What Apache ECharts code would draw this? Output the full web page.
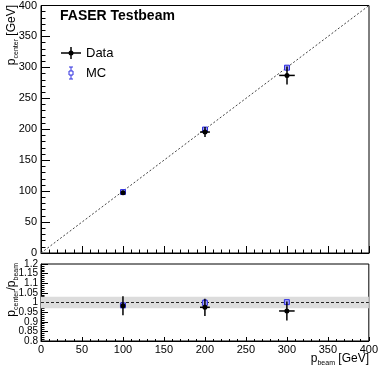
<!DOCTYPE html>
<html>
<head>
<meta charset="utf-8">
<script src="https://cdn.jsdelivr.net/npm/echarts@6/dist/echarts.min.js"></script>
<style>
  html, body { margin: 0; padding: 0; background: #fff; }
  #chart { width: 381px; height: 370px; }
</style>
</head>
<body>
<div id="chart"></div>
<script>
const beamE = [100, 200, 300]
const beamErr = [2, 6, 9.5]
const dataCenter = [97.5, 195.5, 287]
const dataCenterErr = [3, 8, 14.5]
const mcCenter = [98.5, 199.5, 299.5]
const mcCenterErr = [2, 3, 3]
const dataRatio = [0.983, 0.975, 0.956]
const dataRatioErr = [0.049, 0.045, 0.049]
const mcRatio = [0.985, 0.998, 1.002]
const mcRatioErr = [0.008, 0.015, 0.006]
const diagonal = [[0, 0], [400, 400]]
const unity = [[0, 1], [400, 1]]
const band = [0.97, 1.03]
// ratio axis labels, split in two sets so that none get dropped
const ratioLabelsA = [0.8, 0.9, 1, 1.1, 1.2]
const ratioLabelsB = [0.85, 0.95, 1.05, 1.15]

const font = 'Liberation Sans, Arial, sans-serif'

function pts(xs, ys, xe, ye) {
  return xs.map((x, i) => [x, ys[i], xe ? xe[i] : 0, ye[i]])
}

function errRender(isMC) {
  return function (params, api) {
    const x = api.value(0), y = api.value(1), ex = api.value(2), ey = api.value(3)
    const c = api.coord([x, y])
    const t = api.coord([x, y + ey]), b = api.coord([x, y - ey])
    const kids = []
    if (isMC) {
      const col = '#3030e0'
      kids.push({ type: 'line', shape: { x1: c[0], y1: t[1], x2: c[0], y2: b[1] }, style: { stroke: col, lineWidth: 1 } })
      kids.push({ type: 'line', shape: { x1: c[0] - 2, y1: t[1], x2: c[0] + 2, y2: t[1] }, style: { stroke: col, lineWidth: 1 } })
      kids.push({ type: 'line', shape: { x1: c[0] - 2, y1: b[1], x2: c[0] + 2, y2: b[1] }, style: { stroke: col, lineWidth: 1 } })
      kids.push({ type: 'rect', shape: { x: c[0] - 2.5, y: c[1] - 2.5, width: 5, height: 5 }, style: { fill: '#a0a0f8', stroke: col, lineWidth: 1 } })
    } else {
      const l = api.coord([x - ex, y]), r = api.coord([x + ex, y])
      kids.push({ type: 'line', shape: { x1: c[0], y1: t[1], x2: c[0], y2: b[1] }, style: { stroke: '#000', lineWidth: 1.5 } })
      kids.push({ type: 'line', shape: { x1: l[0], y1: c[1], x2: r[0], y2: c[1] }, style: { stroke: '#000', lineWidth: 1.5 } })
      kids.push({ type: 'circle', shape: { cx: c[0], cy: c[1], r: 2.5 }, style: { fill: '#000' } })
    }
    return { type: 'group', children: kids }
  }
}

const tickCommon = {
  axisLine: { show: true, lineStyle: { color: '#000', width: 1 } },
  splitLine: { show: false },
}
const ratioLabel = { show: true, color: '#000', fontFamily: font, fontSize: 10, margin: 3 }

const chart = echarts.init(document.getElementById('chart'), null, { renderer: 'canvas' })

chart.setOption({
  animation: false,
  grid: [
    { left: 41, top: 5, right: 12, height: 248, show: true, borderColor: '#000', borderWidth: 1, backgroundColor: 'transparent' },
    { left: 41, top: 264, right: 12, height: 77, show: true, borderColor: '#000', borderWidth: 1, backgroundColor: 'transparent' },
  ],
  xAxis: [
    {
      gridIndex: 0, type: 'value', min: 0, max: 400, interval: 50, ...tickCommon,
      axisLabel: { show: false },
      axisTick: { show: true, inside: true, length: 7, lineStyle: { color: '#000' } },
      minorTick: { show: true, splitNumber: 5, length: 3.5, lineStyle: { color: '#000' } },
    },
    {
      gridIndex: 1, type: 'value', min: 0, max: 400, interval: 50, ...tickCommon,
      axisLabel: { show: true, color: '#000', fontFamily: font, fontSize: 11, margin: 3 },
      axisTick: { show: true, inside: true, length: 4, lineStyle: { color: '#000' } },
      minorTick: { show: true, splitNumber: 5, length: 2, lineStyle: { color: '#000' } },
    },
  ],
  yAxis: [
    {
      gridIndex: 0, type: 'value', min: 0, max: 400, interval: 50, ...tickCommon,
      axisLabel: { show: true, color: '#000', fontFamily: font, fontSize: 11, margin: 4 },
      axisTick: { show: true, inside: true, length: 9, lineStyle: { color: '#000' } },
      minorTick: { show: true, splitNumber: 5, length: 4.5, lineStyle: { color: '#000' } },
    },
    {
      gridIndex: 1, type: 'value', min: 0.8, max: 1.2, interval: 0.05, ...tickCommon,
      axisLabel: { ...ratioLabel, customValues: ratioLabelsA },
      axisTick: { show: true, inside: true, length: 7, lineStyle: { color: '#000' } },
      minorTick: { show: true, splitNumber: 5, length: 3.5, lineStyle: { color: '#000' } },
    },
    {
      gridIndex: 1, type: 'value', min: 0.8, max: 1.2, interval: 0.05, position: 'left',
      axisLine: { show: false }, splitLine: { show: false }, axisTick: { show: false },
      axisLabel: { ...ratioLabel, customValues: ratioLabelsB },
    },
  ],
  series: [
    {
      type: 'line', xAxisIndex: 0, yAxisIndex: 0, data: diagonal, symbol: 'none',
      lineStyle: { color: '#444', width: 1, type: [2, 2] }, silent: true,
    },
    {
      type: 'line', xAxisIndex: 1, yAxisIndex: 1, data: unity, symbol: 'none',
      lineStyle: { color: '#222', width: 1, type: [3, 2] }, silent: true, z: 3,
      markArea: {
        silent: true,
        itemStyle: { color: '#dcdcdc' },
        data: [[{ yAxis: band[0] }, { yAxis: band[1] }]],
      },
    },
    {
      name: 'MC', type: 'custom', xAxisIndex: 0, yAxisIndex: 0, z: 4,
      data: pts(beamE, mcCenter, null, mcCenterErr), renderItem: errRender(true),
    },
    {
      name: 'Data', type: 'custom', xAxisIndex: 0, yAxisIndex: 0, z: 5,
      data: pts(beamE, dataCenter, beamErr, dataCenterErr), renderItem: errRender(false),
    },
    {
      name: 'MC ratio', type: 'custom', xAxisIndex: 1, yAxisIndex: 1, z: 4,
      data: pts(beamE, mcRatio, null, mcRatioErr), renderItem: errRender(true),
    },
    {
      name: 'Data ratio', type: 'custom', xAxisIndex: 1, yAxisIndex: 1, z: 5,
      data: pts(beamE, dataRatio, beamErr, dataRatioErr), renderItem: errRender(false),
    },
  ],
  graphic: [
    {
      type: 'text', x: 60, y: 16,
      style: { text: 'FASER Testbeam', font: 'bold 14px ' + font, fill: '#000', verticalAlign: 'middle' },
    },
    // legend: Data
    { type: 'line', shape: { x1: 61, y1: 53, x2: 81, y2: 53 }, style: { stroke: '#000', lineWidth: 1.5 } },
    { type: 'line', shape: { x1: 71, y1: 47, x2: 71, y2: 59 }, style: { stroke: '#000', lineWidth: 1.5 } },
    { type: 'circle', shape: { cx: 71, cy: 53, r: 2.5 }, style: { fill: '#000' } },
    { type: 'text', x: 86, y: 53, style: { text: 'Data', font: '13px ' + font, fill: '#000', verticalAlign: 'middle' } },
    // legend: MC
    { type: 'line', shape: { x1: 71, y1: 67, x2: 71, y2: 79 }, style: { stroke: '#3030e0', lineWidth: 1 } },
    { type: 'line', shape: { x1: 69, y1: 67, x2: 73, y2: 67 }, style: { stroke: '#3030e0', lineWidth: 1 } },
    { type: 'line', shape: { x1: 69, y1: 79, x2: 73, y2: 79 }, style: { stroke: '#3030e0', lineWidth: 1 } },
    { type: 'rect', shape: { x: 69, y: 71, width: 4, height: 4 }, style: { fill: '#fff', stroke: '#3030e0', lineWidth: 1 } },
    { type: 'text', x: 86, y: 73, style: { text: 'MC', font: '13px ' + font, fill: '#000', verticalAlign: 'middle' } },
    // axis titles
    {
      type: 'text', x: 12, y: 5, rotation: Math.PI / 2,
      style: {
        text: '{p|p}{s|center}{p| [GeV]}', align: 'right', verticalAlign: 'middle',
        rich: {
          p: { fontFamily: font, fontSize: 12, lineHeight: 16, fill: '#000' },
          s: { fontFamily: font, fontSize: 7, lineHeight: 7, verticalAlign: 'bottom', fill: '#000' },
        },
      },
    },
    {
      type: 'text', x: 12, y: 263, rotation: Math.PI / 2,
      style: {
        text: '{p|p}{s|center}{p|/p}{s|beam}', align: 'right', verticalAlign: 'middle',
        rich: {
          p: { fontFamily: font, fontSize: 12, lineHeight: 16, fill: '#000' },
          s: { fontFamily: font, fontSize: 7, lineHeight: 7, verticalAlign: 'bottom', fill: '#000' },
        },
      },
    },
    {
      type: 'text', x: 369, y: 359,
      style: {
        text: '{p|p}{s|beam}{p| [GeV]}', align: 'right', verticalAlign: 'middle',
        rich: {
          p: { fontFamily: font, fontSize: 12, lineHeight: 16, fill: '#000' },
          s: { fontFamily: font, fontSize: 7, lineHeight: 7, verticalAlign: 'bottom', fill: '#000' },
        },
      },
    },
  ],
})
</script>
</body>
</html>
